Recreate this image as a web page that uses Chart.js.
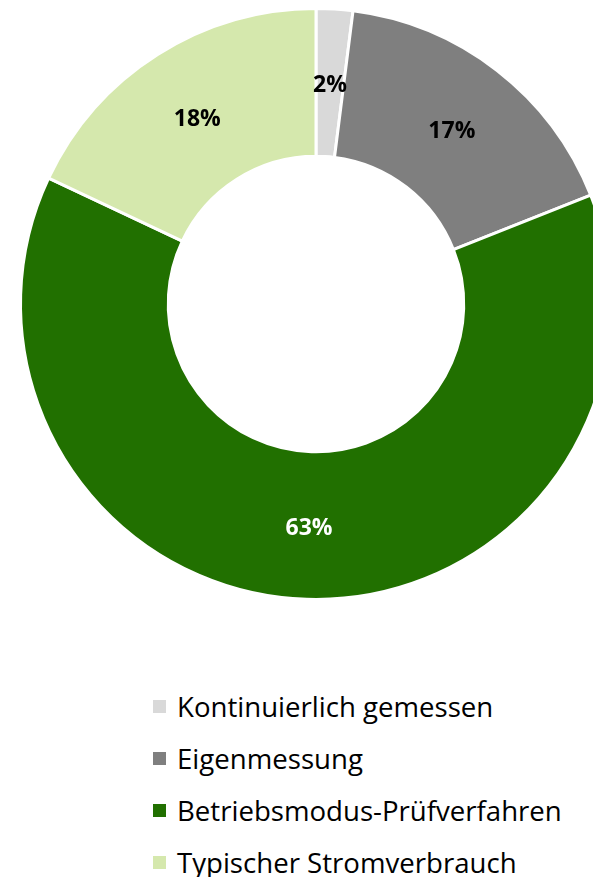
<!DOCTYPE html>
<html>
<head>
<meta charset="utf-8">
<script src="https://cdn.jsdelivr.net/npm/chart.js@4"></script>
<style>
  html, body { margin: 0; padding: 0; width: 593px; height: 877px; overflow: hidden; background: #fff; }
  #wrap { position: absolute; left: 0; top: 0; width: 632px; height: 608px; }
  #legend { position: absolute; left: 153px; top: 680px; font-family: "Open Sans", sans-serif; font-size: 27.6px; color: #000; }
  .row { height: 52px; display: flex; align-items: center; white-space: nowrap; }
  .box { width: 13px; height: 13px; margin-right: 11px; flex: none; }
</style>
</head>
<body>
<div id="wrap"><canvas id="c" width="632" height="608"></canvas></div>
<div id="legend"></div>
<script>
const categories = ["Kontinuierlich gemessen", "Eigenmessung", "Betriebsmodus-Prüfverfahren", "Typischer Stromverbrauch"];
const values = [2, 17, 63, 18];
const percentLabels = ["2%", "17%", "63%", "18%"];
const colors = ["#d9d9d9", "#7f7f7f", "#217000", "#d5e8ad"];
const labelColors = ["#000000", "#000000", "#ffffff", "#000000"];

const labelPlugin = {
  id: 'sliceLabels',
  afterDatasetsDraw(chart) {
    const ctx = chart.ctx;
    const meta = chart.getDatasetMeta(0);
    ctx.save();
    ctx.font = 'bold 23px "Open Sans", sans-serif';
    ctx.textAlign = 'center';
    ctx.textBaseline = 'middle';
    meta.data.forEach((arc, i) => {
      const p = arc.tooltipPosition();
      ctx.fillStyle = labelColors[i];
      ctx.fillText(percentLabels[i], p.x, p.y + 3);
    });
    ctx.restore();
  }
};

new Chart(document.getElementById('c'), {
  type: 'doughnut',
  data: {
    labels: categories,
    datasets: [{
      data: values,
      backgroundColor: colors,
      borderColor: '#ffffff',
      borderWidth: 3,
      hoverOffset: 0
    }]
  },
  options: {
    responsive: false,
    animation: false,
    cutout: '50%',
    layout: { padding: { left: 19, right: 19, top: 7, bottom: 7 } },
    plugins: { legend: { display: false }, tooltip: { enabled: false } }
  },
  plugins: [labelPlugin]
});

const legend = document.getElementById('legend');
categories.forEach((c, i) => {
  const row = document.createElement('div');
  row.className = 'row';
  const b = document.createElement('span');
  b.className = 'box';
  b.style.background = colors[i];
  const t = document.createElement('span');
  t.textContent = c;
  row.appendChild(b);
  row.appendChild(t);
  legend.appendChild(row);
});
</script>
</body>
</html>
